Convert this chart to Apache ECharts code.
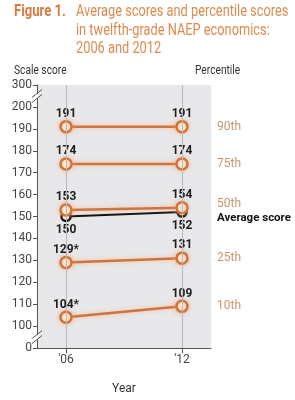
<!DOCTYPE html>
<html>
<head>
<meta charset="utf-8">
<script src="https://cdn.jsdelivr.net/npm/echarts@6/dist/echarts.min.js"></script>
<style>
  html, body { margin: 0; padding: 0; background: #fff; }
  #chart { width: 295px; height: 400px; }
</style>
</head>
<body>
<div id="chart"></div>
<script>
// years and their tick labels
var years = [2006, 2012];
var yearLabels = ["'06", "'12"];

// scale scores
var p90 = [191, 191];
var p75 = [174, 174];
var p50 = [153, 154];
var avgScore = [150, 152];
var p25 = [129, 131];
var p10 = [104, 109];

// significance flags (asterisk)
var star25 = [true, false];
var star10 = [true, false];

// y axis: the broken axis has 0 below 100 and 300 above 200
var yTicks = [90, 100, 110, 120, 130, 140, 150, 160, 170, 180, 190, 200, 210];
var yTickLabels = ['0', '100', '110', '120', '130', '140', '150', '160', '170', '180', '190', '200', '300'];

var FONT = 'Roboto, "Liberation Sans", sans-serif';
var ORANGE = '#d0743c';
var HALO = 'rgba(245, 170, 120, 0.7)';
var TAN = '#c9976e';

var chart = echarts.init(document.getElementById('chart'));

function pctSeries(name, vals, stars) {
    return {
        name: name,
        type: 'line',
        data: years.map(function (y, i) { return [y, vals[i]]; }),
        z: 3,
        symbol: 'circle',
        symbolSize: 11,
        lineStyle: {
            color: ORANGE,
            width: 2.5,
            shadowColor: HALO,
            shadowBlur: 5
        },
        itemStyle: {
            color: '#fdf0e2',
            borderColor: ORANGE,
            borderWidth: 2.5,
            shadowColor: HALO,
            shadowBlur: 5
        },
        label: {
            show: true,
            position: 'top',
            distance: 0,
            color: '#1e1e1e',
            fontFamily: FONT,
            fontWeight: 'bold',
            fontSize: 12,
            formatter: function (p) {
                return vals[p.dataIndex] + (stars && stars[p.dataIndex] ? '*' : '');
            }
        },
        endLabel: {
            show: true,
            distance: 35,
            color: TAN,
            fontFamily: FONT,
            fontSize: 12,
            formatter: name
        }
    };
}

var s50 = pctSeries('50th', p50);
s50.endLabel.offset = [0, -4];

function titleText(str, x, y, size, weight, color, sx) {
    return {
        type: 'text',
        x: x, y: y,
        scaleX: sx,
        style: {
            text: str,
            fill: color,
            font: weight + ' ' + size + 'px ' + FONT
        },
        z: 20
    };
}

var option = {
    animation: false,
    grid: {
        left: 37, right: 84, top: 85, bottom: 37,
        show: true,
        backgroundColor: '#e8e8eb',
        borderWidth: 0
    },
    xAxis: {
        type: 'value',
        min: 2004.5,
        max: 2013.5,
        name: 'Year',
        nameLocation: 'middle',
        nameGap: 35,
        nameTextStyle: { color: '#333', fontFamily: FONT, fontSize: 12 },
        axisLine: { lineStyle: { color: '#555', width: 1 } },
        axisTick: { show: true, customValues: years, length: 5, lineStyle: { color: '#555' } },
        axisLabel: {
            customValues: years,
            color: '#444',
            fontFamily: FONT,
            fontSize: 12,
            margin: 6,
            formatter: function (v) { return yearLabels[years.indexOf(v)]; }
        },
        splitLine: { show: false }
    },
    yAxis: {
        type: 'value',
        min: 90,
        max: 210,
        interval: 10,
        axisLine: { show: true, lineStyle: { color: '#555', width: 1 } },
        axisTick: { show: true, length: 4, lineStyle: { color: '#555' } },
        axisLabel: {
            color: '#444',
            fontFamily: FONT,
            fontSize: 12,
            margin: 5,
            formatter: function (v) { return yTickLabels[yTicks.indexOf(v)]; }
        },
        splitLine: { show: false }
    },
    series: [
        {
            name: 'grid lines',
            type: 'line',
            data: [],
            silent: true,
            markLine: {
                silent: true,
                symbol: 'none',
                label: { show: false },
                lineStyle: { color: '#b8b8be', width: 1, type: 'solid' },
                data: years.map(function (y) { return { xAxis: y }; })
            }
        },
        {
            name: 'Average score',
            type: 'line',
            data: years.map(function (y, i) { return [y, avgScore[i]]; }),
            z: 2,
            symbol: 'circle',
            symbolSize: 9,
            lineStyle: { color: '#111', width: 2 },
            itemStyle: { color: '#fff', borderColor: '#111', borderWidth: 2.5 },
            label: {
                show: true,
                position: 'bottom',
                distance: 2,
                color: '#1e1e1e',
                fontFamily: FONT,
                fontWeight: 'bold',
                fontSize: 12
            },
            endLabel: {
                show: true,
                distance: 35,
                offset: [0, 6],
                color: '#111',
                fontFamily: FONT,
                fontWeight: 'bold',
                fontSize: 11.5,
                formatter: 'Average score'
            }
        },
        pctSeries('90th', p90),
        pctSeries('75th', p75),
        s50,
        pctSeries('25th', p25, star25),
        pctSeries('10th', p10, star10)
    ]
};

chart.setOption(option);

// axis break marks "//" on the y axis
function breakMark(v) {
    var p = chart.convertToPixel({ gridIndex: 0 }, [2004.5, v]);
    var els = [];
    els.push({
        type: 'rect',
        shape: { x: p[0] - 1, y: p[1] - 2, width: 2, height: 4 },
        style: { fill: '#fff' },
        z: 9
    });
    [-2.5, 2.5].forEach(function (d) {
        els.push({
            type: 'line',
            shape: { x1: p[0] - 5, y1: p[1] + d + 4, x2: p[0] + 5, y2: p[1] + d - 4 },
            style: { stroke: '#555', lineWidth: 1 },
            z: 10
        });
    });
    return els;
}

var texts = [
    titleText('Figure 1.', 14, 4, 16, 'bold', '#d77b3f', 0.82),
    titleText('Average scores and percentile scores', 76, 4, 16, 'normal', '#dd8a4f', 0.8),
    titleText('in twelfth-grade NAEP economics:', 76, 22.5, 16, 'normal', '#dd8a4f', 0.8),
    titleText('2006 and 2012', 76, 41, 16, 'normal', '#dd8a4f', 0.8),
    titleText('Scale score', 14, 65, 12, 'normal', '#333', 0.85),
    titleText('Percentile', 195, 65, 12, 'normal', '#333', 0.85)
];

chart.setOption({ graphic: breakMark(205).concat(breakMark(95)).concat(texts) });

window.addEventListener('resize', function () { chart.resize(); });
</script>
</body>
</html>
